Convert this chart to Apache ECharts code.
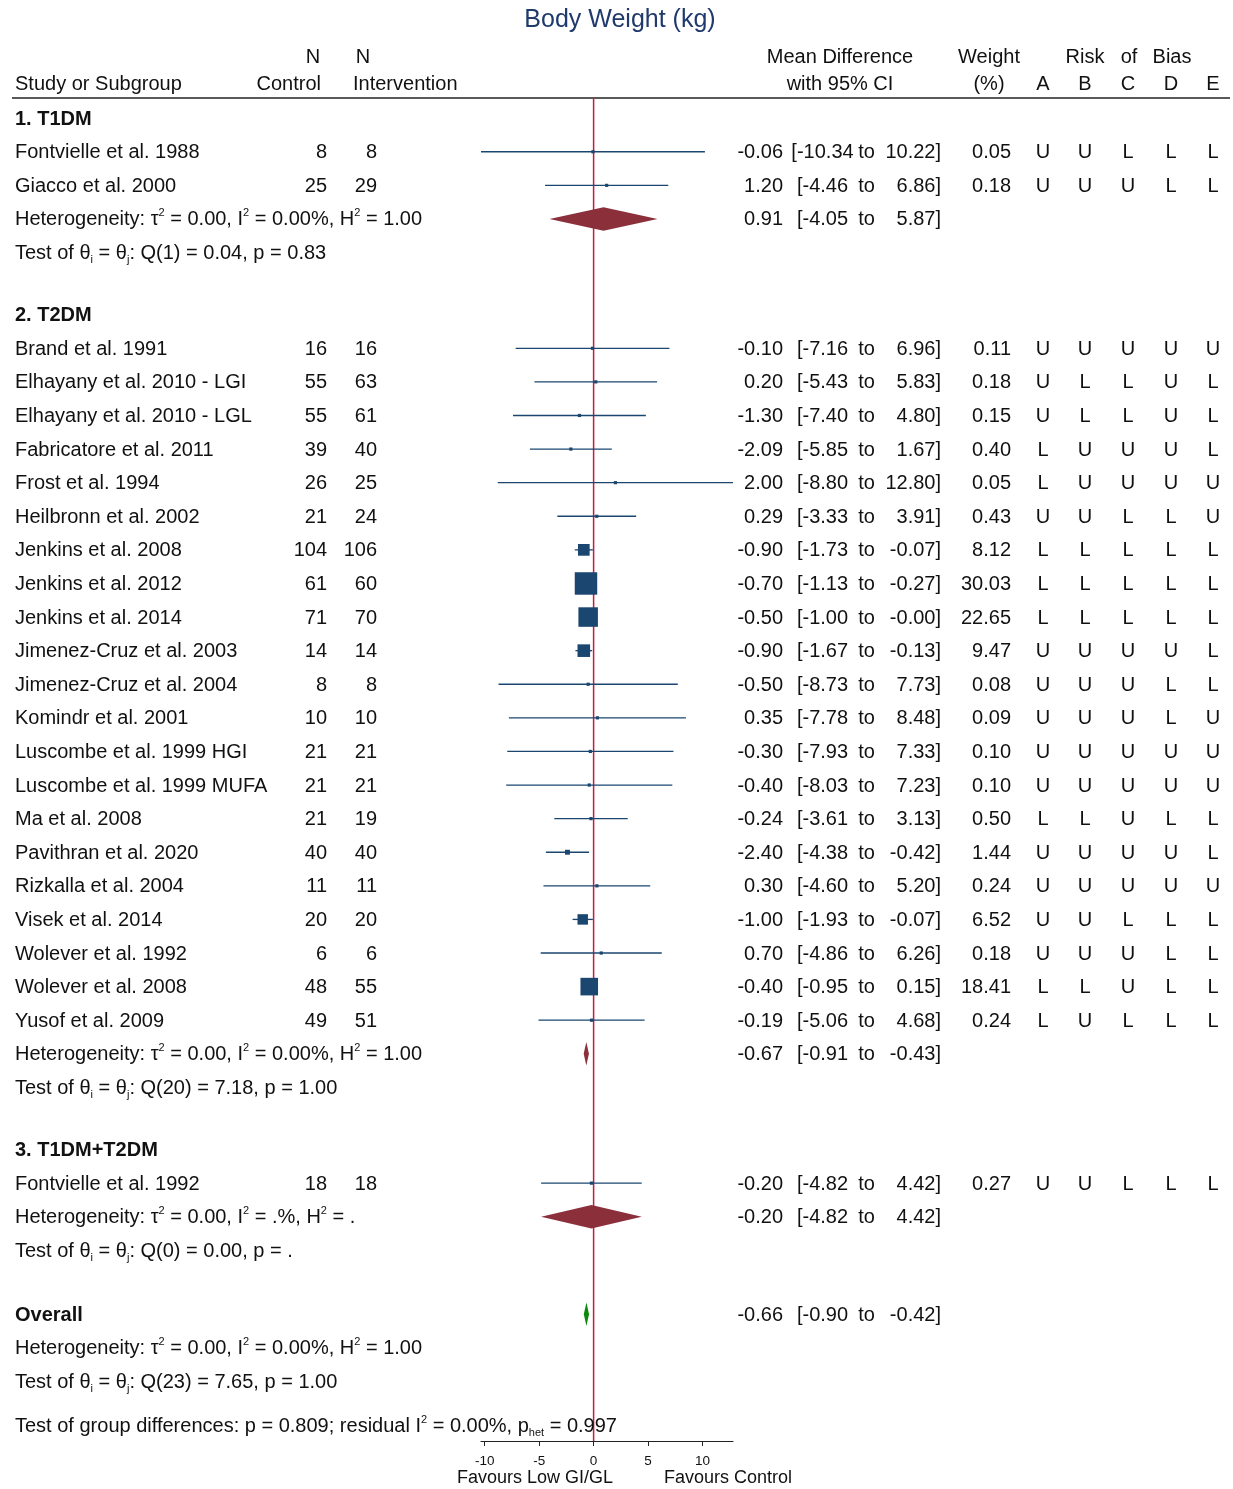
<!DOCTYPE html>
<html><head><meta charset="utf-8">
<script src="https://cdn.jsdelivr.net/npm/echarts@6/dist/echarts.min.js"></script>
<style>html,body{margin:0;padding:0;background:#fff}#c{width:1233px;height:1489px}</style>
</head><body><div id="c"></div>
<script>
// ---------------- DATA ----------------
const groupNames = ['1. T1DM', '2. T2DM', '3. T1DM+T2DM'];
const studyNames = [
  'Fontvielle et al. 1988', 'Giacco et al. 2000',
  'Brand et al. 1991', 'Elhayany et al. 2010 - LGI', 'Elhayany et al. 2010 - LGL',
  'Fabricatore et al. 2011', 'Frost et al. 1994', 'Heilbronn et al. 2002',
  'Jenkins et al. 2008', 'Jenkins et al. 2012', 'Jenkins et al. 2014',
  'Jimenez-Cruz et al. 2003', 'Jimenez-Cruz et al. 2004', 'Komindr et al. 2001',
  'Luscombe et al. 1999 HGI', 'Luscombe et al. 1999 MUFA', 'Ma et al. 2008',
  'Pavithran et al. 2020', 'Rizkalla et al. 2004', 'Visek et al. 2014',
  'Wolever et al. 1992', 'Wolever et al. 2008', 'Yusof et al. 2009',
  'Fontvielle et al. 1992'
];
const studyGroup = [0,0, 1,1,1,1,1,1,1,1,1,1,1,1,1,1,1,1,1,1,1,1,1, 2];
const nControl = [8,25, 16,55,55,39,26,21,104,61,71,14,8,10,21,21,21,40,11,20,6,48,49, 18];
const nIntervention = [8,29, 16,63,61,40,25,24,106,60,70,14,8,10,21,21,19,40,11,20,6,55,51, 18];
const meanDiff = [-0.06,1.20, -0.10,0.20,-1.30,-2.09,2.00,0.29,-0.90,-0.70,-0.50,-0.90,-0.50,0.35,-0.30,-0.40,-0.24,-2.40,0.30,-1.00,0.70,-0.40,-0.19, -0.20];
const ciLower = [-10.34,-4.46, -7.16,-5.43,-7.40,-5.85,-8.80,-3.33,-1.73,-1.13,-1.00,-1.67,-8.73,-7.78,-7.93,-8.03,-3.61,-4.38,-4.60,-1.93,-4.86,-0.95,-5.06, -4.82];
const ciUpper = [10.22,6.86, 6.96,5.83,4.80,1.67,12.80,3.91,-0.07,-0.27,-0,-0.13,7.73,8.48,7.33,7.23,3.13,-0.42,5.20,-0.07,6.26,0.15,4.68, 4.42];
const weightPct = [0.05,0.18, 0.11,0.18,0.15,0.40,0.05,0.43,8.12,30.03,22.65,9.47,0.08,0.09,0.10,0.10,0.50,1.44,0.24,6.52,0.18,18.41,0.24, 0.27];
const robA = ['U','U', 'U','U','U','L','L','U','L','L','L','U','U','U','U','U','L','U','U','U','U','L','L', 'U'];
const robB = ['U','U', 'U','L','L','U','U','U','L','L','L','U','U','U','U','U','L','U','U','U','U','L','U', 'U'];
const robC = ['L','U', 'U','L','L','U','U','L','L','L','L','U','U','U','U','U','U','U','U','L','U','U','L', 'L'];
const robD = ['L','L', 'U','U','U','U','U','L','L','L','L','U','L','L','U','U','L','U','U','L','L','L','L', 'L'];
const robE = ['L','L', 'U','L','L','L','U','U','L','L','L','L','L','U','U','U','L','L','U','L','L','L','L', 'L'];
const robHeaders = ['A','B','C','D','E'];

const groupMD = [0.91, -0.67, -0.20];
const groupLower = [-4.05, -0.91, -4.82];
const groupUpper = [5.87, -0.43, 4.42];
const groupHet = [
  'Heterogeneity: τ{sup|2} = 0.00, I{sup|2} = 0.00%, H{sup|2} = 1.00',
  'Heterogeneity: τ{sup|2} = 0.00, I{sup|2} = 0.00%, H{sup|2} = 1.00',
  'Heterogeneity: τ{sup|2} = 0.00, I{sup|2} = .%, H{sup|2} = .'
];
const groupTest = [
  'Test of θ{sub|i} = θ{sub|j}: Q(1) = 0.04, p = 0.83',
  'Test of θ{sub|i} = θ{sub|j}: Q(20) = 7.18, p = 1.00',
  'Test of θ{sub|i} = θ{sub|j}: Q(0) = 0.00, p = .'
];
const overallMD = -0.66, overallLower = -0.90, overallUpper = -0.42;
const overallHet = 'Heterogeneity: τ{sup|2} = 0.00, I{sup|2} = 0.00%, H{sup|2} = 1.00';
const overallTest = 'Test of θ{sub|i} = θ{sub|j}: Q(23) = 7.65, p = 1.00';
const groupDiffNote = 'Test of group differences: p = 0.809; residual I{sup|2} = 0.00%, p{sub|het} = 0.997';
const xTickValues = [-10, -5, 0, 5, 10];
const title = 'Body Weight (kg)';
const xNameLeft = 'Favours Low GI/GL';
const xNameRight = 'Favours Control';

// ---------------- LAYOUT / STYLE ----------------
const FONT = '"Liberation Sans", Arial, Helvetica, sans-serif';
const FS = 20;
const TXT = '#111';
const BLUE = '#1b4670';
const MAROON = '#8b2f3b';
const GREEN = '#0a8a0a';
const REDLINE = '#c8193f';
const TY = 1; // text baseline nudge
const COL = {name: 15, nc: 327, ni: 377, est: 783, lo: 822.5, to: 866.5, hi: 941, w: 1011, rob: [1043, 1085, 1128, 1171, 1213]};
const RICH = {
  sup: {fontSize: 11, lineHeight: 10, verticalAlign: 'top', fontFamily: FONT, fill: TXT, color: TXT},
  sub: {fontSize: 11, lineHeight: 13, verticalAlign: 'bottom', fontFamily: FONT, fill: TXT, color: TXT}
};

// ---------------- ROWS ----------------
const rows = [];
let pos = 0;
function addRow(r, gap) { if (rows.length) pos += gap; r.pos = pos; rows.push(r); }
groupNames.forEach((g, gi) => {
  addRow({kind: 'head', text: g}, 1.85);
  studyNames.forEach((s, si) => { if (studyGroup[si] === gi) addRow({kind: 'study', i: si}, 1); });
  addRow({kind: 'pooled', text: groupHet[gi], md: groupMD[gi], lo: groupLower[gi], hi: groupUpper[gi], color: MAROON}, 1);
  addRow({kind: 'text', text: groupTest[gi]}, 1);
});
addRow({kind: 'overall', text: 'Overall', md: overallMD, lo: overallLower, hi: overallUpper, color: GREEN}, 1.9);
addRow({kind: 'text', text: overallHet}, 1);
addRow({kind: 'text', text: overallTest}, 1);
addRow({kind: 'text', text: groupDiffNote}, 1.3);

const yMin = -0.6, yMax = pos + 0.475;
const xMin = Math.min(...ciLower), xMax = Math.max(...ciUpper);

function fmt(v) { return (v < 0 || Object.is(v, -0)) ? '-' + Math.abs(v).toFixed(2) : v.toFixed(2); }
function txt(text, x, y, align, extra) {
  return {type: 'text', z2: 10, style: Object.assign({text: text, x: x, y: y + TY, align: align, verticalAlign: 'middle',
    fontSize: FS, fontFamily: FONT, fill: TXT, lineHeight: 24, rich: RICH}, extra || {})};
}
function ciTexts(ch, y, md, lo, hi) {
  ch.push(txt(fmt(md), COL.est, y, 'right'));
  ch.push(txt('[' + fmt(lo), COL.lo, y, 'center'));
  ch.push(txt('to', COL.to, y, 'center'));
  ch.push(txt(fmt(hi) + ']', COL.hi, y, 'right'));
}

function renderRow(params, api) {
  const r = rows[api.value(2)];
  const p = api.value(1);
  const y = api.coord([0, p])[1];
  const ch = [];
  if (r.kind === 'head') {
    ch.push(txt(r.text, COL.name, y, 'left', {fontWeight: 'bold'}));
  } else if (r.kind === 'study') {
    const i = r.i;
    ch.push(txt(studyNames[i], COL.name, y, 'left'));
    ch.push(txt(String(nControl[i]), COL.nc, y, 'right'));
    ch.push(txt(String(nIntervention[i]), COL.ni, y, 'right'));
    ciTexts(ch, y, meanDiff[i], ciLower[i], ciUpper[i]);
    ch.push(txt(weightPct[i].toFixed(2), COL.w, y, 'right'));
    [robA, robB, robC, robD, robE].forEach((arr, k) => ch.push(txt(arr[i], COL.rob[k], y, 'center')));
    const x1 = api.coord([ciLower[i], p])[0], x2 = api.coord([ciUpper[i], p])[0];
    const xc = api.coord([meanDiff[i], p])[0];
    ch.push({type: 'line', z2: 5, shape: {x1: x1, y1: y, x2: x2, y2: y}, style: {stroke: BLUE, lineWidth: 1.3}});
    const s = Math.max(3.2, 4.1 * Math.sqrt(weightPct[i]));
    ch.push({type: 'rect', z2: 6, shape: {x: xc - s / 2, y: y - s / 2, width: s, height: s}, style: {fill: BLUE}});
  } else if (r.kind === 'pooled' || r.kind === 'overall') {
    ch.push(txt(r.text, COL.name, y, 'left', r.kind === 'overall' ? {fontWeight: 'bold'} : {}));
    ciTexts(ch, y, r.md, r.lo, r.hi);
    const xl = api.coord([r.lo, p])[0], xh = api.coord([r.hi, p])[0], xm = api.coord([r.md, p])[0];
    const h = 11.8;
    ch.push({type: 'polygon', z2: 6, shape: {points: [[xl, y], [xm, y - h], [xh, y], [xm, y + h]]}, style: {fill: r.color}});
  } else {
    ch.push(txt(r.text, COL.name, y, 'left'));
  }
  return {type: 'group', children: ch};
}

function renderZeroLine(params, api) {
  const a = api.coord([0, yMin]), b = api.coord([0, yMax]);
  return {type: 'line', shape: {x1: a[0], y1: a[1], x2: b[0], y2: b[1]}, style: {stroke: REDLINE, lineWidth: 1.5}};
}

const chart = echarts.init(document.getElementById('c'), null, {renderer: 'canvas'});
const hdr = (text, x, y, align) => ({type: 'text', x: x, y: y + TY, style: {text: text, align: align, verticalAlign: 'middle', fontSize: FS, fontFamily: FONT, fill: TXT}});
const graphics = [
  {type: 'text', x: 620, y: 20, style: {text: title, align: 'center', verticalAlign: 'middle', fontSize: 25, fontFamily: FONT, fill: '#1f3a6b'}},
  hdr('N', 313, 56, 'center'), hdr('N', 363, 56, 'center'),
  hdr('Study or Subgroup', 15, 83, 'left'), hdr('Control', 321, 83, 'right'), hdr('Intervention', 353, 83, 'left'),
  hdr('Mean Difference', 840, 56, 'center'), hdr('with 95% CI', 840, 83, 'center'),
  hdr('Weight', 989, 56, 'center'), hdr('(%)', 989, 83, 'center'),
  hdr('Risk', 1085, 56, 'center'), hdr('of', 1129, 56, 'center'), hdr('Bias', 1172, 56, 'center'),
  {type: 'line', shape: {x1: 12, y1: 98, x2: 1230, y2: 98}, style: {stroke: '#222', lineWidth: 1.6}},
  {type: 'text', x: 535, y: 1478, style: {text: xNameLeft, align: 'center', verticalAlign: 'middle', fontSize: 18, fontFamily: FONT, fill: TXT}},
  {type: 'text', x: 728, y: 1478, style: {text: xNameRight, align: 'center', verticalAlign: 'middle', fontSize: 18, fontFamily: FONT, fill: TXT}}
];
robHeaders.forEach((h, k) => graphics.push(hdr(h, COL.rob[k], 83, 'center')));

chart.setOption({
  animation: false,
  backgroundColor: '#fff',
  grid: {left: 481, width: 252, top: 98, height: 1343},
  xAxis: {
    type: 'value', min: xMin, max: xMax,
    splitLine: {show: false},
    axisLine: {show: true, onZero: false, lineStyle: {color: '#222', width: 1.2}},
    axisTick: {show: true, length: 5, customValues: xTickValues, lineStyle: {color: '#222'}},
    axisLabel: {show: true, customValues: xTickValues, fontSize: 13.5, fontFamily: FONT, color: TXT, margin: 13}
  },
  yAxis: {type: 'value', inverse: true, min: yMin, max: yMax, show: false, splitLine: {show: false}},
  series: [
    {type: 'custom', clip: false, silent: true, z: 1, data: [[0, 0]], renderItem: renderZeroLine},
    {type: 'custom', clip: false, silent: true, z: 2, encode: {x: 0, y: 1},
     data: rows.map((r, i) => [0, r.pos, i]), renderItem: renderRow}
  ],
  graphic: graphics
});
</script>
</body></html>
